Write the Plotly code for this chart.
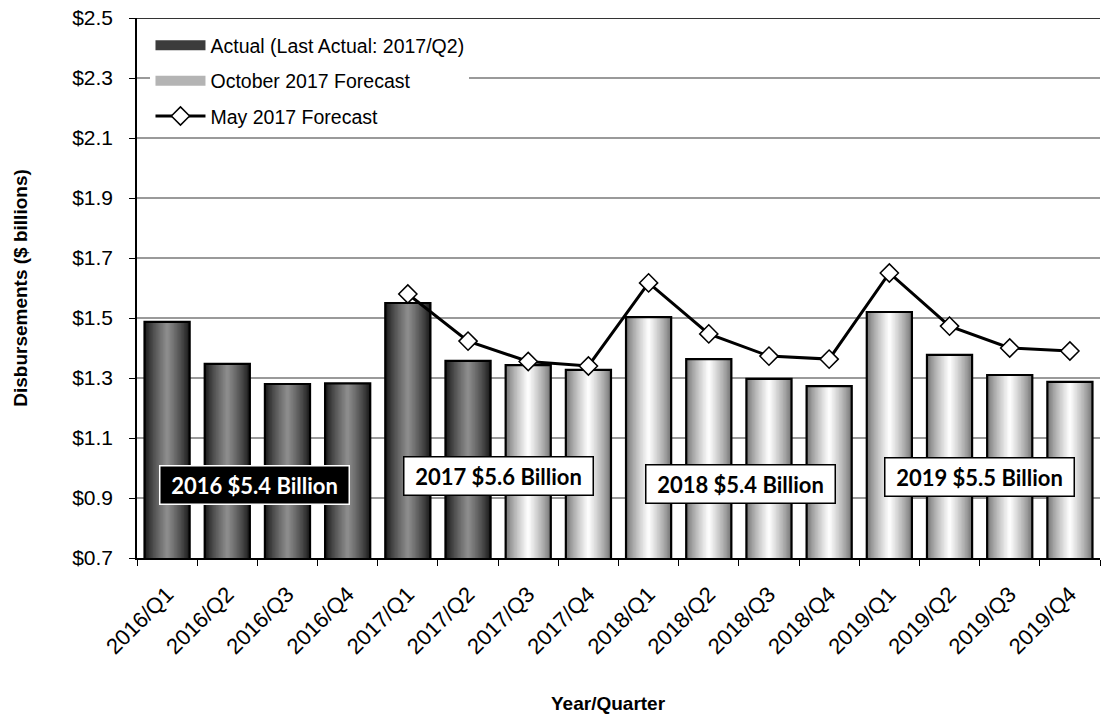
import plotly.graph_objects as go

# ---------------- data ----------------
categories = ["2016/Q1", "2016/Q2", "2016/Q3", "2016/Q4",
              "2017/Q1", "2017/Q2", "2017/Q3", "2017/Q4",
              "2018/Q1", "2018/Q2", "2018/Q3", "2018/Q4",
              "2019/Q1", "2019/Q2", "2019/Q3", "2019/Q4"]
actual = [1.487, 1.347, 1.280, 1.282, 1.550, 1.357,
          None, None, None, None, None, None, None, None, None, None]
october_2017 = [None, None, None, None, None, None,
                1.343, 1.327, 1.503, 1.363, 1.297, 1.273, 1.520, 1.377, 1.310, 1.287]
may_2017 = [None, None, None, None,
            1.580, 1.423, 1.355, 1.340, 1.617, 1.447, 1.373, 1.363, 1.650, 1.473, 1.400, 1.390]
year_labels = ["2016 $5.4 Billion", "2017 $5.6 Billion", "2018 $5.4 Billion", "2019 $5.5 Billion"]
y_ticks = [0.7, 0.9, 1.1, 1.3, 1.5, 1.7, 1.9, 2.1, 2.3, 2.5]
y_tick_labels = ["$0.7", "$0.9", "$1.1", "$1.3", "$1.5", "$1.7", "$1.9", "$2.1", "$2.3", "$2.5"]

names = ["Actual (Last Actual: 2017/Q2)", "October 2017 Forecast", "May 2017 Forecast"]

FONT = "Liberation Sans, Arial, sans-serif"
BOX_FONT = "Lato, Open Sans, sans-serif"

fig = go.Figure()

BAR_W = 0.75
N_LAYERS = 16


def mix(c1, c2, t):
    return "rgb(%d,%d,%d)" % tuple(round(a + (b - a) * t) for a, b in zip(c1, c2))


def gradient_bars(values, edge, center, name, rank, legend_color):
    # legend-only entry (wide swatch)
    fig.add_trace(go.Scatter(x=[None], y=[None], name=name, mode="lines",
                             line=dict(color=legend_color, width=10),
                             legendgroup=name, legendrank=rank, showlegend=True))
    for k in range(N_LAYERS):
        t = (k / (N_LAYERS - 1)) ** 0.8
        fig.add_trace(go.Bar(x=categories, y=values, width=BAR_W * (1 - k / N_LAYERS),
                             marker=dict(color=mix(edge, center, t), line=dict(width=0)),
                             showlegend=False, legendgroup=name, hoverinfo="skip"))
    fig.add_trace(go.Bar(x=categories, y=values, width=BAR_W,
                         marker=dict(color="rgba(0,0,0,0)", line=dict(color="black", width=2.2)),
                         showlegend=False, legendgroup=name, name=name))


gradient_bars(actual, (24, 24, 24), (140, 140, 140), names[0], 1, "#3c3c3c")
gradient_bars(october_2017, (115, 115, 115), (252, 252, 252), names[1], 2, "#b4b4b4")

fig.add_trace(go.Scatter(x=categories, y=may_2017, name=names[2], mode="lines+markers",
                         line=dict(color="black", width=3),
                         marker=dict(symbol="diamond", size=14, color="white",
                                     line=dict(color="black", width=1.5)),
                         legendgroup=names[2], legendrank=3))

# year total boxes
box_pos = [(1.45, 0.945), (5.51, 0.973), (9.52, 0.948), (13.49, 0.970)]
for i, (lab, (xp, yp)) in enumerate(zip(year_labels, box_pos)):
    dark = i == 0
    fig.add_annotation(x=xp, y=yp, xref="x", yref="y",
                       text="\u00a0<b>%s</b>\u00a0" % lab,
                       showarrow=False,
                       font=dict(family=BOX_FONT, size=22, color="white" if dark else "black"),
                       bgcolor="black" if dark else "white",
                       bordercolor="white" if dark else "black",
                       borderwidth=1.5, borderpad=5)

# axis title for x
fig.add_annotation(x=0.49, y=-0.27, xref="paper", yref="paper", yanchor="middle",
                   text="<b>Year/Quarter</b>", showarrow=False,
                   font=dict(family=FONT, size=19, color="black"))

# dark top border
fig.add_shape(type="line", xref="paper", yref="y", x0=0, x1=1, y0=2.5, y1=2.5,
              line=dict(color="#333333", width=2))

fig.update_layout(
    width=1103, height=719,
    margin=dict(l=137, r=3, t=18, b=161),
    paper_bgcolor="white", plot_bgcolor="white",
    barmode="overlay", bargap=0.25,
    font=dict(family=FONT, size=19.5, color="black"),
    showlegend=True,
    legend=dict(x=0.014, y=0.985, xanchor="left", yanchor="top",
                bgcolor="white", borderwidth=0, itemwidth=50,
                font=dict(family=FONT, size=19.5, color="black"),
                tracegroupgap=7, traceorder="grouped"),
    xaxis=dict(type="category", categoryorder="array", categoryarray=categories,
               tickangle=-45, tickson="boundaries", ticks="outside", ticklen=6,
               tickcolor="black", tickwidth=1, ticklabelstandoff=13,
               showline=True, linecolor="black", linewidth=1.5, automargin=False,
               showgrid=False, tickfont=dict(family=FONT, size=22),
               range=[-0.5, 15.5]),
    yaxis=dict(range=[0.7, 2.5], tickvals=y_ticks, ticktext=y_tick_labels,
               ticks="outside", ticklen=6, tickcolor="black", automargin=False,
               ticklabelstandoff=12,
               showline=True, linecolor="black", linewidth=1.5,
               showgrid=True, gridcolor="#9a9a9a", gridwidth=1.8,
               zeroline=False, tickfont=dict(family=FONT, size=21),
               title=dict(text="<b>Disbursements ($ billions)</b>", standoff=40,
                          font=dict(family=FONT, size=19))),
)

# remove the browser's default 8px body margin so the figure fills the window exactly
fig.write_html("out.html", config={"displayModeBar": False},
               post_script="document.body.style.margin='0px';")
